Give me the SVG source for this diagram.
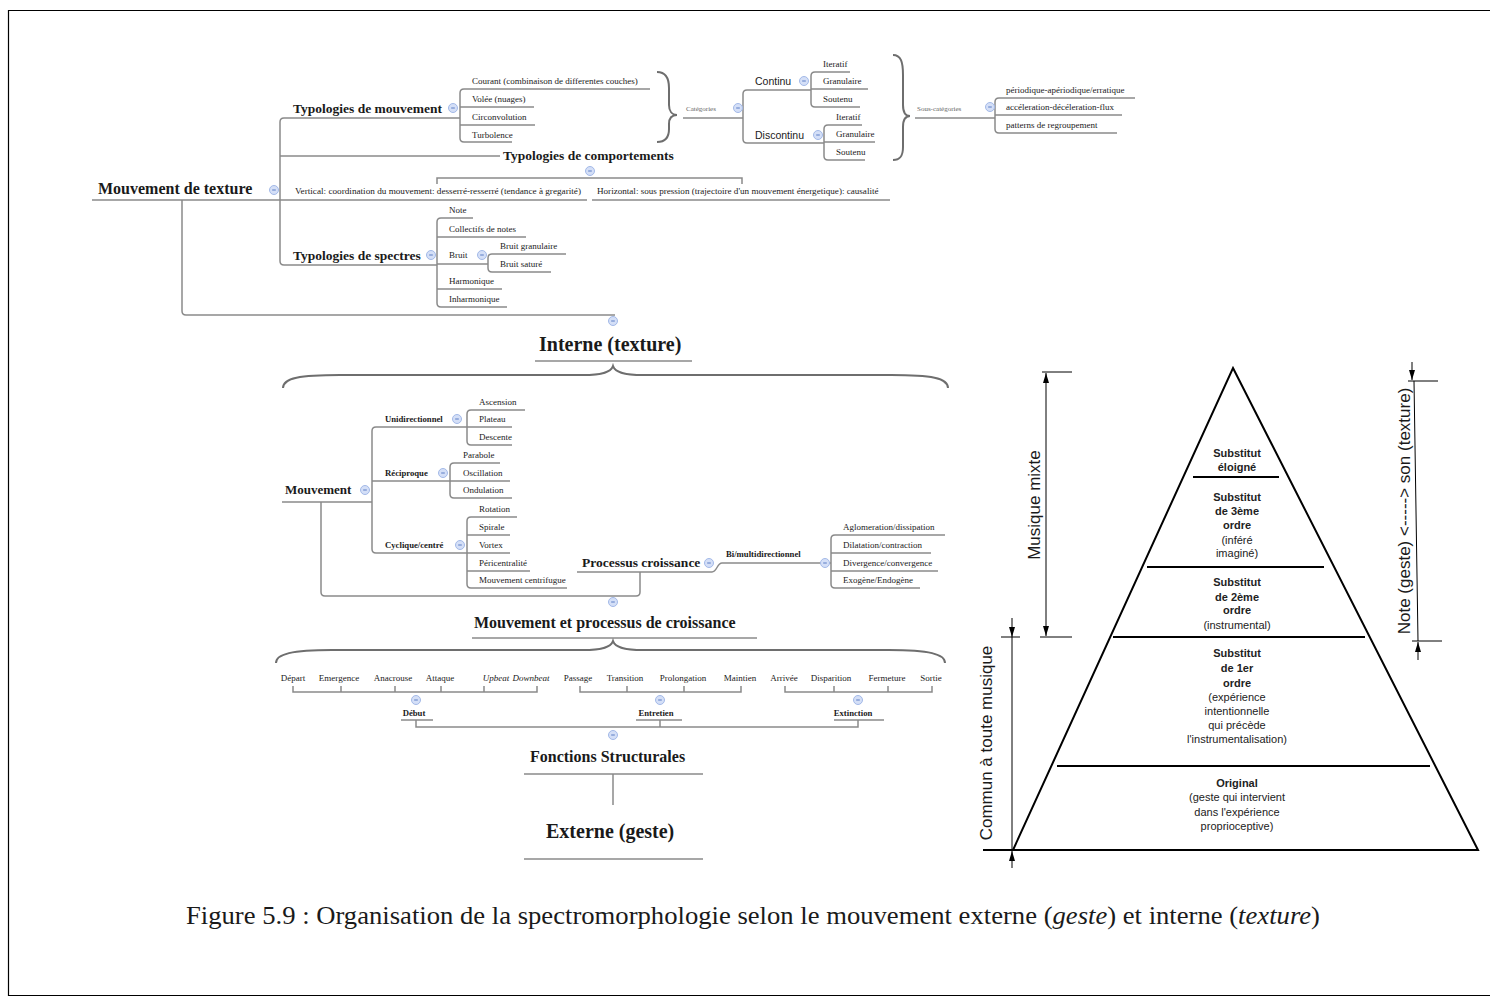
<svg xmlns="http://www.w3.org/2000/svg" xmlns:xlink="http://www.w3.org/1999/xlink" width="1490" height="1003" viewBox="0 0 1490 1003">
<style>
.l{fill:none;stroke:#8a8a8a;stroke-width:1.5}
.br{fill:none;stroke:#6e6e6e;stroke-width:2}
.s{font-family:"Liberation Serif","Times New Roman",serif;fill:#1a1a1a}
.f9{font-size:9px}
.f8{font-size:9px}
.g{font-size:7px;fill:#666}
.b{font-weight:bold}
.sa{font-family:"Liberation Sans",Arial,sans-serif;fill:#1a1a1a}
.p{font-family:"Liberation Sans",Arial,sans-serif;font-size:11px;fill:#222;text-anchor:middle}
.k{fill:none;stroke:#000;stroke-width:2}
.d{fill:none;stroke:#000;stroke-width:1}
.m{text-anchor:middle}
</style>
<defs>
<g id="mi"><circle r="4.5" fill="#d4dff7" stroke="#a3b9e8" stroke-width="1"/><line x1="-1.8" x2="1.8" stroke="#5b7cc4" stroke-width="1"/></g>
<marker id="ah" viewBox="0 0 10 6" refX="10" refY="3" markerWidth="10" markerHeight="6" markerUnits="userSpaceOnUse" orient="auto-start-reverse"><path d="M0 0L10 3L0 6z" fill="#000"/></marker>
</defs>
<rect width="1490" height="1003" fill="#fff"/>
<path d="M1490 10.5H8.5V995.5H1490" fill="none" stroke="#000" stroke-width="1.2"/>

<g id="connectors">
<path class="l" d="M460 118H284Q280 118 280 122V261Q280 265 284 265H437M280 156H500M92 200H587M182 200V311Q182 315 186 315H615"/>
<path class="l" d="M650 89H464Q460 89 460 93V138Q460 142 464 142H512M460 107H534M460 125H535"/>
<path class="l" d="M683 118H743M811 90H747Q743 90 743 94V139Q743 143 747 143H824"/>
<path class="l" d="M850 72H815Q811 72 811 76V103Q811 107 815 107H860M811 89H868"/>
<path class="l" d="M862 125H828Q824 125 824 129V156Q824 160 828 160H865M824 142H875"/>
<path class="l" d="M915 118H995M1135 98H999Q995 98 995 102V129Q995 133 999 133H1117M995 115H1122"/>
<path class="l" d="M437 184V178H742V184M592 200H890"/>
<path class="l" d="M473 218H441Q437 218 437 222V303Q437 307 441 307H507M437 237H526M437 264H488M437 289H502"/>
<path class="l" d="M566 254H492Q488 254 488 258V268Q488 272 492 272H551"/>
<path class="l" d="M535 361H692"/>
<path class="l" d="M282 502H372M467 427H376Q372 427 372 431V549Q372 553 376 553H467M372 481H450"/>
<path class="l" d="M525 410H471Q467 410 467 414V441Q467 445 471 445H512M467 427H512"/>
<path class="l" d="M500 463H454Q450 463 450 467V494Q450 498 454 498H512M450 481H510"/>
<path class="l" d="M517 517H471Q467 517 467 521V584Q467 588 471 588H567M467 535H510M467 553H510M467 571H530"/>
<path class="l" d="M321 502V592Q321 596 325 596H636Q640 596 640 592V572"/>
<path class="l" d="M577 572H712C717 572 717 563 722 563H831"/>
<path class="l" d="M945 535H835Q831 535 831 539V584Q831 588 835 588H920M831 553H931M831 571H938"/>
<path class="l" d="M472 638H757"/>
<path class="l" d="M293 686V692H537V686M341 686V692M395 686V692M441 686V692M484 686V692"/>
<path class="l" d="M580 686V692H741V686M627 686V692M684 686V692"/>
<path class="l" d="M785 686V692H932V686M834 686V692M888 686V692"/>
<path class="l" d="M401 720H433M636 720H682M834 720H884M416 720V727H858V720M660 720V727"/>
<path class="l" d="M524 774H703M613 774V805M524 859H703"/>
<path class="br" d="M657 72C666 72 669 78 669 88L669 105C669 111 672 115 677 115C672 115 669 118 669 124L669 129C669 137 666 142 657 142"/>
<path class="br" d="M893 55C901 55 903 62 903 75L903 105C903 112 905 116 910 116C905 116 903 120 903 127L903 147C903 155 901 160 893 160"/>
<path class="br" d="M283 388C283 378 300 375 340 375L583 375C603 375 611 372 613 366C615 372 623 375 643 375L891 375C931 375 948 378 948 388"/>
<path class="br" d="M276 663C276 654 292 650 332 650L583 650C603 650 611 647 613 641C615 647 623 650 643 650L889 650C929 650 945 654 945 663"/>
</g>

<g id="icons">
<use xlink:href="#mi" x="274" y="190"/>
<use xlink:href="#mi" x="453" y="108"/>
<use xlink:href="#mi" x="738" y="108"/>
<use xlink:href="#mi" x="804" y="81"/>
<use xlink:href="#mi" x="818" y="135"/>
<use xlink:href="#mi" x="990" y="107"/>
<use xlink:href="#mi" x="590" y="171"/>
<use xlink:href="#mi" x="431" y="255"/>
<use xlink:href="#mi" x="482" y="255"/>
<use xlink:href="#mi" x="613" y="321"/>
<use xlink:href="#mi" x="365" y="490"/>
<use xlink:href="#mi" x="457" y="419"/>
<use xlink:href="#mi" x="443" y="473"/>
<use xlink:href="#mi" x="460" y="545"/>
<use xlink:href="#mi" x="709" y="563"/>
<use xlink:href="#mi" x="825" y="563"/>
<use xlink:href="#mi" x="613" y="602"/>
<use xlink:href="#mi" x="416" y="700"/>
<use xlink:href="#mi" x="660" y="700"/>
<use xlink:href="#mi" x="858" y="700"/>
<use xlink:href="#mi" x="613" y="735"/>
</g>

<g id="n-mouvement-texture"><text class="s b" x="98" y="194" font-size="16">Mouvement de texture</text></g>
<g id="n-typo-mouvement"><text class="s b" x="293" y="113" font-size="13.5">Typologies de mouvement</text></g>
<g id="n-typo-mouvement-items" class="s f9">
<text x="472" y="84">Courant (combinaison de differentes couches)</text>
<text x="472" y="102">Volée (nuages)</text>
<text x="472" y="120">Circonvolution</text>
<text x="472" y="138">Turbolence</text>
</g>
<g id="n-categories"><text class="s g" x="686" y="111">Catégories</text></g>
<g id="n-continu"><text class="sa" x="755" y="85" font-size="10.5">Continu</text></g>
<g id="n-continu-items" class="s f8">
<text x="823" y="67">Iteratif</text>
<text x="823" y="84">Granulaire</text>
<text x="823" y="102">Soutenu</text>
</g>
<g id="n-discontinu"><text class="sa" x="755" y="139" font-size="10.5">Discontinu</text></g>
<g id="n-discontinu-items" class="s f8">
<text x="836" y="120">Iteratif</text>
<text x="836" y="137">Granulaire</text>
<text x="836" y="155">Soutenu</text>
</g>
<g id="n-souscat"><text class="s g" x="917" y="111">Sous-catégories</text></g>
<g id="n-souscat-items" class="s f8">
<text x="1006" y="93">périodique-apériodique/erratique</text>
<text x="1006" y="110">accéleration-décéleration-flux</text>
<text x="1006" y="128">patterns de regroupement</text>
</g>
<g id="n-typo-comport"><text class="s b" x="503" y="160" font-size="13.5">Typologies de comportements</text></g>
<g id="n-vertical"><text class="s" x="295" y="194" font-size="9.2">Vertical: coordination du mouvement: desserré-resserré (tendance à gregarité)</text></g>
<g id="n-horizontal"><text class="s" x="597" y="194" font-size="9.1">Horizontal: sous pression (trajectoire d'un mouvement énergetique): causalité</text></g>
<g id="n-typo-spectres"><text class="s b" x="293" y="260" font-size="13.5">Typologies de spectres</text></g>
<g id="n-spectres-items" class="s f9">
<text x="449" y="213">Note</text>
<text x="449" y="232">Collectifs de notes</text>
<text x="449" y="258">Bruit</text>
<text x="449" y="284">Harmonique</text>
<text x="449" y="302">Inharmonique</text>
</g>
<g id="n-bruit-items" class="s f9">
<text x="500" y="249">Bruit granulaire</text>
<text x="500" y="267">Bruit saturé</text>
</g>
<g id="n-interne"><text class="s b" x="539" y="351" font-size="20">Interne (texture)</text></g>

<g id="n-mouvement"><text class="s b" x="285" y="494" font-size="13">Mouvement</text></g>
<g id="n-unidir"><text class="s b" x="385" y="422" font-size="8.7">Unidirectionnel</text></g>
<g id="n-unidir-items" class="s f9">
<text x="479" y="405">Ascension</text>
<text x="479" y="422">Plateau</text>
<text x="479" y="440">Descente</text>
</g>
<g id="n-recip"><text class="s b" x="385" y="476" font-size="8.7">Réciproque</text></g>
<g id="n-recip-items" class="s f9">
<text x="463" y="458">Parabole</text>
<text x="463" y="476">Oscillation</text>
<text x="463" y="493">Ondulation</text>
</g>
<g id="n-cyclique"><text class="s b" x="385" y="548" font-size="8.7">Cyclique/centré</text></g>
<g id="n-cyclique-items" class="s f9">
<text x="479" y="512">Rotation</text>
<text x="479" y="530">Spirale</text>
<text x="479" y="548">Vortex</text>
<text x="479" y="566">Péricentralité</text>
<text x="479" y="583">Mouvement centrifugue</text>
</g>
<g id="n-processus"><text class="s b" x="582" y="567" font-size="13.5">Processus croissance</text></g>
<g id="n-bimulti"><text class="s b" x="726" y="557" font-size="8.7">Bi/multidirectionnel</text></g>
<g id="n-bimulti-items" class="s f9">
<text x="843" y="530">Aglomeration/dissipation</text>
<text x="843" y="548">Dilatation/contraction</text>
<text x="843" y="566">Divergence/convergence</text>
<text x="843" y="583">Exogène/Endogène</text>
</g>
<g id="n-mouv-proc"><text class="s b" x="474" y="628" font-size="16">Mouvement et processus de croissance</text></g>

<g id="n-fonctions-items" class="s f9 m">
<text x="293" y="681">Départ</text>
<text x="339" y="681">Emergence</text>
<text x="393" y="681">Anacrouse</text>
<text x="440" y="681">Attaque</text>
<text x="496" y="681" font-style="italic">Upbeat</text>
<text x="531" y="681" font-style="italic">Downbeat</text>
<text x="578" y="681">Passage</text>
<text x="625" y="681">Transition</text>
<text x="683" y="681">Prolongation</text>
<text x="740" y="681">Maintien</text>
<text x="784" y="681">Arrivée</text>
<text x="831" y="681">Disparition</text>
<text x="887" y="681">Fermeture</text>
<text x="931" y="681">Sortie</text>
</g>
<g id="n-debut"><text class="s b m" x="414" y="716" font-size="8.7">Début</text></g>
<g id="n-entretien"><text class="s b m" x="656" y="716" font-size="8.7">Entretien</text></g>
<g id="n-extinction"><text class="s b m" x="853" y="716" font-size="8.7">Extinction</text></g>
<g id="n-fonctions"><text class="s b" x="530" y="762" font-size="16">Fonctions Structurales</text></g>
<g id="n-externe"><text class="s b" x="546" y="838" font-size="20">Externe (geste)</text></g>

<g id="pyramid">
<path class="k" d="M1233 368L1478 850H1013Z"/>
<path class="k" d="M983 850H1013M1193 477H1279M1147 567H1324M1113 637H1365M1057 766H1430"/>
<g class="p">
<text x="1237" y="457" font-weight="bold">Substitut</text>
<text x="1237" y="471" font-weight="bold">éloigné</text>
<text x="1237" y="501" font-weight="bold">Substitut</text>
<text x="1237" y="515" font-weight="bold">de 3ème</text>
<text x="1237" y="529" font-weight="bold">ordre</text>
<text x="1237" y="544">(inféré</text>
<text x="1237" y="557">imaginé)</text>
<text x="1237" y="586" font-weight="bold">Substitut</text>
<text x="1237" y="601" font-weight="bold">de 2ème</text>
<text x="1237" y="614" font-weight="bold">ordre</text>
<text x="1237" y="629">(instrumental)</text>
<text x="1237" y="657" font-weight="bold">Substitut</text>
<text x="1237" y="672" font-weight="bold">de 1er</text>
<text x="1237" y="687" font-weight="bold">ordre</text>
<text x="1237" y="701">(expérience</text>
<text x="1237" y="715">intentionnelle</text>
<text x="1237" y="729">qui précède</text>
<text x="1237" y="743">l'instrumentalisation)</text>
<text x="1237" y="787" font-weight="bold">Original</text>
<text x="1237" y="801">(geste qui intervient</text>
<text x="1237" y="816">dans l'expérience</text>
<text x="1237" y="830">proprioceptive)</text>
</g>
</g>

<g id="dimensions">
<path class="d" d="M1042 372H1072M1040 637H1072M1001 637H1020M1408 381H1438M1412 641H1442"/>
<path class="d" d="M1046 373V636" marker-start="url(#ah)" marker-end="url(#ah)"/>
<path class="d" d="M1012 618V637" marker-end="url(#ah)"/>
<path class="d" d="M1012 868V851" marker-end="url(#ah)"/>
<path class="d" d="M1012 637V850M1414 381L1418 641"/>
<path class="d" d="M1412 362V380" marker-end="url(#ah)"/>
<path class="d" d="M1418 660V642" marker-end="url(#ah)"/>
<text class="sa m" font-size="17" transform="translate(1040 505) rotate(-90)">Musique mixte</text>
<text class="sa m" font-size="17" transform="translate(992 743) rotate(-90)">Commun à toute musique</text>
<text class="sa m" font-size="17" transform="translate(1410 511) rotate(-90)">Note (geste) &lt;-----&gt; son (texture)</text>
</g>

<g id="caption"><text class="s" x="186" y="924" font-size="26" textLength="1134" lengthAdjust="spacingAndGlyphs">Figure 5.9 : Organisation de la spectromorphologie selon le mouvement externe (<tspan font-style="italic">geste</tspan>) et interne (<tspan font-style="italic">texture</tspan>)</text></g>
</svg>
